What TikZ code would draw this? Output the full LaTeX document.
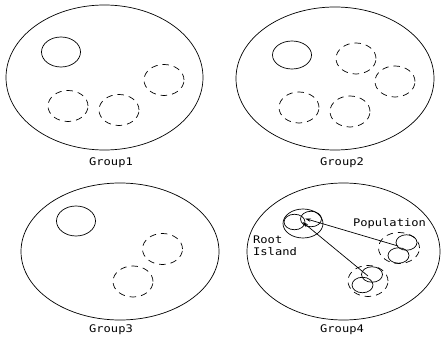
\documentclass[tikz,border=0pt]{standalone}
\usepackage{fontspec}
\newfontfamily\lblfont[FakeStretch=1.15]{DejaVu Sans Mono}
\usetikzlibrary{shapes.geometric,arrows.meta}
\tikzset{
  grp/.style={draw, ellipse, line width=0.7pt, inner sep=0pt},
  solidisl/.style={draw, ellipse, line width=0.7pt, inner sep=0pt, minimum width=39pt, minimum height=30pt},
  dashisl/.style={draw, ellipse, line width=0.7pt, inner sep=0pt, minimum width=40pt, minimum height=31pt, dash pattern=on 6.5pt off 5pt},
  small/.style={draw, ellipse, line width=0.7pt, inner sep=0pt, minimum width=21pt, minimum height=15.5pt},
  lbl/.style={font=\lblfont\fontsize{10.5}{12}\selectfont, inner sep=0pt},
  arr/.style={line width=0.7pt, -{Stealth[length=6pt,width=3.5pt]}}
}
\begin{document}
\begin{tikzpicture}[x=1pt,y=-1pt]
\useasboundingbox (0,0) rectangle (442,342);
% Group 1
\node[grp, minimum width=197pt, minimum height=145pt] (g1) at (104.5,77.5) {};
\node[solidisl] (g1s) at (61,52) {};
\node[dashisl] (g1a) at (68,106) {};
\node[dashisl] (g1b) at (119,110) {};
\node[dashisl] (g1c) at (164,80) {};
\node[lbl] (g1l) at (111,163) {Group1};
% Group 2
\node[grp, minimum width=198pt, minimum height=143pt] (g2) at (335,78.5) {};
\node[solidisl, minimum height=28pt] (g2s) at (292,55) {};
\node[dashisl] (g2a) at (356,58.5) {};
\node[dashisl] (g2b) at (395,81.5) {};
\node[dashisl] (g2c) at (299,107.5) {};
\node[dashisl] (g2d) at (350,111.5) {};
\node[lbl] (g2l) at (342,163) {Group2};
% Group 3
\node[grp, minimum width=198pt, minimum height=137pt] (g3) at (120,251.5) {};
\node[solidisl] (g3s) at (76,221) {};
\node[dashisl] (g3a) at (162.5,249) {};
\node[dashisl] (g3b) at (133,281.5) {};
\node[lbl] (g3l) at (111,330) {Group3};
% Group 4
\node[grp, minimum width=193pt, minimum height=137pt] (g4) at (343.5,251.5) {};
\node[solidisl, minimum width=40pt, minimum height=29pt] (root) at (303,223.5) {};
\node[small] (r1) at (294.5,222) {};
\node[small] (r2) at (311,219) {};
\node[dashisl, minimum width=41pt] (popa) at (399,248) {};
\node[small] (pa1) at (406.5,242.5) {};
\node[small] (pa2) at (398.5,255.5) {};
\node[dashisl] (popb) at (368,281) {};
\node[small] (pb1) at (372,274.5) {};
\node[small] (pb2) at (362.5,285) {};
\coordinate (sa) at (398,246);
\coordinate (sb) at (368,276);
\coordinate (ta) at (305,218.5);
\coordinate (tb) at (302.5,222);
\draw[arr] (sa) -- (ta);
\draw[arr] (sb) -- (tb);
\node[lbl] (popl) at (389.5,223.5) {Population};
\node[lbl, align=left, anchor=west] (rootl) at (253,246) {Root\\Island};
\node[lbl] (g4l) at (342,330) {Group4};
\end{tikzpicture}
\end{document}
